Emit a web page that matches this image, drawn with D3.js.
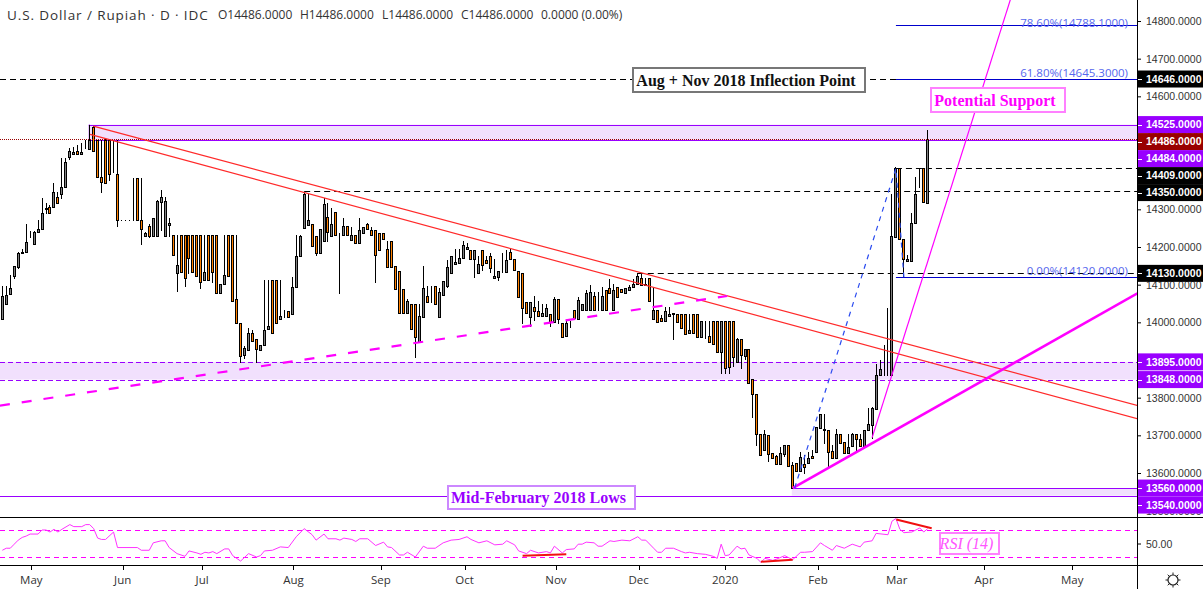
<!DOCTYPE html>
<html>
<head>
<meta charset="utf-8">
<script src="https://cdn.jsdelivr.net/npm/d3@7"></script>
<style>
  html, body { margin: 0; padding: 0; background: #fff; overflow: hidden; }
  svg { display: block; }
  text { font-family: "Open Sans", sans-serif; }
</style>
</head>
<body>
<div id="chart"></div>
<script>
// daily candles (first bar is just before May 2019)
let barOpen = [
  14010,14049,14074,14124,14147,14183,14188,14243,14209,14241,
  14249,14302,14305,14305,14334,14342,14358,14440,14446,14456,
  14446,14475,14461,14519,14484,14385,14484,14484,14484,14395,
  14272,14272,14271,14271,14382,14271,14228,14256,14230,14230,
  14320,14230,14259,14231,14130,14231,14231,14231,14231,14231,
  14231,14112,14231,14231,14231,14079,14101,14231,14231,14061,
  13997,13913,13927,13973,13955,13927,13939,13983,14112,14112,
  14010,14030,14029,14021,14093,14175,14250,14258,14260,14229,
  14185,14215,14279,14228,14292,14236,14231,14255,14218,14231,
  14210,14236,14260,14244,14244,14236,14236,14194,14215,14150,
  14135,14088,14026,14050,14048,13949,14014,14069,14053,14096,
  14015,14073,14097,14130,14156,14158,14170,14194,14191,14168,
  14130,14191,14165,14175,14119,14121,14135,14134,14186,14167,
  14135,14130,14053,14015,14040,14029,14018,14018,14021,14002,
  14061,13997,13964,14003,14034,14010,14034,14034,14034,14069,
  14034,14034,14085,14090,14034,14093,14088,14077,14085,14093,
  14101,14119,14098,14119,14010,14033,14011,14004,14016,14021,
  14021,14021,14021,13972,14021,14021,13960,13959,13965,14003,
  14003,13920,14003,14003,14003,13894,13957,13911,13928,13849,
  13811,13703,13660,13700,13652,13645,13623,13651,13674,13621,
  13627,13606,13624,13627,13645,13657,13720,13718,13713,13658,
  13641,13703,13681,13652,13673,13703,13689,13673,13713,13728,
  13771,13859,13859,13859,13859,14227,14409,14220,14164,14164,
  14263,14409,14409,14318
];
let barHigh = [
  14096,14096,14125,14149,14186,14194,14260,14243,14243,14272,
  14329,14316,14311,14369,14347,14435,14435,14462,14466,14471,
  14475,14484,14525,14521,14484,14484,14486,14486,14484,14484,
  14272,14272,14271,14382,14382,14382,14240,14260,14276,14325,
  14351,14332,14278,14231,14231,14231,14231,14231,14231,14231,
  14231,14231,14231,14231,14231,14103,14231,14231,14231,14231,
  13997,13937,13984,13980,13955,13939,14112,14112,14112,14112,
  14112,14034,14029,14121,14231,14231,14347,14342,14260,14229,
  14247,14329,14316,14304,14292,14236,14276,14255,14254,14231,
  14276,14254,14263,14254,14244,14236,14236,14216,14215,14150,
  14135,14088,14061,14050,14048,14050,14149,14096,14096,14096,
  14090,14111,14165,14175,14194,14196,14216,14211,14191,14191,
  14176,14191,14176,14183,14167,14135,14183,14192,14194,14167,
  14135,14130,14053,14055,14070,14057,14050,14050,14021,14068,
  14061,13997,14006,14003,14034,14068,14050,14086,14099,14081,
  14081,14095,14085,14114,14103,14093,14088,14090,14099,14114,
  14130,14130,14119,14119,14095,14033,14019,14042,14040,14026,
  14021,14021,14021,14021,14021,14021,14003,14003,14003,14003,
  14003,14003,14003,14003,14003,13959,13957,13928,13928,13849,
  13811,13703,13714,13700,13652,13648,13670,13674,13674,13630,
  13627,13657,13648,13657,13661,13722,13756,13757,13713,13674,
  13717,13703,13681,13703,13705,13703,13703,13713,13772,13774,
  13889,13900,13940,14038,14340,14413,14409,14220,14179,14289,
  14385,14409,14409,14511
];
let barLow = [
  14010,14049,14074,14118,14145,14183,14188,14226,14209,14241,
  14249,14289,14289,14305,14318,14329,14358,14434,14446,14446,
  14446,14462,14461,14454,14385,14347,14369,14378,14400,14257,
  14272,14272,14271,14271,14271,14208,14228,14226,14230,14230,
  14245,14230,14230,14180,14083,14134,14096,14130,14134,14124,
  14090,14112,14112,14108,14079,14079,14101,14124,14057,13997,
  13895,13904,13927,13951,13895,13927,13939,13983,13973,13997,
  14010,14013,14013,14021,14093,14175,14250,14258,14203,14179,
  14185,14215,14215,14228,14231,14079,14231,14233,14218,14210,
  14210,14236,14249,14231,14107,14191,14220,14148,14148,14089,
  14026,14026,14026,13983,13909,13949,14014,14053,14053,14050,
  14015,14073,14095,14130,14156,14158,14170,14194,14169,14121,
  14130,14139,14158,14134,14119,14112,14134,14134,14167,14139,
  14068,13999,14024,13990,14006,14018,14018,14018,13990,14002,
  13997,13962,13964,13988,14011,14010,14034,14034,14034,14034,
  14034,14034,14034,14079,14034,14067,14080,14077,14085,14093,
  14101,14098,14098,14057,14010,14000,14003,14004,14016,13956,
  14000,13984,13970,13972,13971,13960,13960,13959,13949,13943,
  13920,13866,13866,13865,13885,13894,13880,13902,13838,13750,
  13674,13649,13660,13633,13641,13624,13623,13645,13619,13559,
  13606,13606,13599,13627,13639,13657,13720,13679,13619,13641,
  13641,13680,13652,13652,13673,13657,13672,13673,13713,13694,
  13771,13859,13859,13859,13859,14227,14220,14121,14164,14164,
  14263,14360,14319,14318
];
let barClose = [
  14070,14072,14090,14149,14183,14188,14212,14243,14241,14249,
  14289,14304,14289,14345,14318,14358,14426,14454,14451,14446,
  14451,14475,14485,14454,14385,14373,14369,14393,14484,14271,
  14272,14272,14271,14271,14271,14247,14236,14230,14276,14321,
  14332,14321,14265,14180,14151,14134,14119,14170,14134,14124,
  14108,14134,14112,14134,14079,14103,14125,14124,14057,13999,
  13911,13931,13973,13951,13930,13939,13980,13989,13973,13997,
  14017,14030,14013,14093,14175,14228,14341,14271,14203,14185,
  14247,14314,14241,14260,14231,14236,14255,14233,14231,14210,
  14244,14252,14249,14231,14180,14191,14220,14148,14148,14089,
  14026,14026,14056,13983,13960,14016,14090,14053,14055,14050,
  14080,14111,14147,14175,14160,14170,14204,14201,14169,14191,
  14154,14151,14158,14145,14122,14135,14135,14165,14167,14139,
  14068,14037,14024,14053,14030,14018,14024,14037,14002,14061,
  14009,13962,13997,14003,14011,14058,14050,14077,14080,14034,
  14034,14069,14034,14079,14085,14067,14080,14090,14093,14101,
  14124,14098,14103,14057,14034,14000,14003,14029,14021,14026,
  14000,13984,13970,13979,13971,13960,14003,13959,13949,13943,
  13920,14003,13880,13882,13909,13957,13914,13928,13838,13809,
  13704,13649,13703,13651,13641,13624,13652,13674,13619,13559,
  13606,13642,13617,13640,13639,13722,13756,13713,13657,13641,
  13703,13680,13652,13668,13703,13689,13672,13713,13729,13772,
  13859,13875,13859,13859,14229,14409,14220,14167,14167,14263,
  14340,14409,14319,14486
];

// RSI(14) turning points: bar number and value
let rsiBars = [0,1,2,3,4,5,6,7,9,10,11,12,13,14,15,17,18,20,21,22,23,24,25,26,28,29,34,35,37,38,40,41,42,44,45,46,47,49,50,51,52,53,54,56,57,58,60,62,64,65,66,68,70,72,74,76,78,79,81,82,84,85,86,88,89,90,92,94,96,97,98,100,101,102,104,106,107,109,111,113,115,117,118,120,122,124,126,127,129,130,132,133,135,137,138,139,141,142,144,145,146,147,149,150,151,153,154,156,158,160,161,162,164,165,166,167,169,171,172,173,175,177,179,180,181,182,183,185,186,187,188,190,191,192,194,195,197,199,201,202,204,206,207,209,210,212,214,216,217,219,220,223,224,225,226,227,229,231,232,233];
let rsiValues = [40,43,43,49,55,59,61,64,64,70,70,67,71,67,71,78,75,75,78,78,72,58,56,56,67,44,44,40,40,51,54,54,44,35,33,31,39,36,34,37,36,38,35,42,42,32,24,35,30,32,39,40,45,44,60,72,63,55,64,57,57,55,58,56,53,57,57,47,52,45,44,33,33,37,30,46,43,43,51,55,56,60,56,51,54,48,49,54,48,39,35,40,36,38,36,46,36,41,42,49,49,52,51,46,46,54,53,55,54,60,55,55,43,37,37,43,43,38,36,37,35,34,31,28,49,32,33,46,42,43,33,28,22,28,25,27,32,26,37,37,38,51,47,40,47,43,49,45,52,54,65,63,83,87,71,66,67,73,67,72];

let monthLabels = ['May','Jun','Jul','Aug','Sep','Oct','Nov','Dec','2020','Feb','Mar','Apr','May'];
let monthBars = [7.3,30.3,50.3,73.3,95.3,116.4,139.4,160.2,182,205.4,225.2,247.2,269.4];

let priceTicks = [14800,14700,14600,14500,14400,14300,14200,14100,14000,13900,13800,13700,13600,13500];

// right hand price tags
let tagValues = [14646,14525,14486,14484,14409,14350,14130,13895,13848,13560,13540];
let tagColors = ['#000','#9900ff','#990000','#9900ff','#000','#000','#000','#9900ff','#9900ff','#9900ff','#9900ff'];

// drawings, [bar, price]
let redUpper = [[22.9,14521],[285.8,13779]];
let redLower = [[22.1,14499],[285.8,13744]];
let pinkDashed = [[-0.6,13779],[182.5,14070]];
let pinkThick = [[199,13560],[285.8,14077]];
let pinkSteep = [[219,13694],[253.8,14856]];
let fibPath = [[199.5,13560],[225,14409],[227,14120]];
let fibLevels = ['78.60%(14788.1000)','61.80%(14645.3000)','0.00%(14120.0000)'];
let fibValues = [14788.1,14645.3,14120];
let fibLabelY = [14795,14663,14137];
let dashLevels = [14646,14409,14350,14130];
let dashFrom = [-1,225,76,160];
// RSI drawings, [bar, rsi]
let rsiRed = [
  [[131,32],[142,34]],
  [[191,23],[199,26]],
  [[225.1,85.6],[234,72.7]]
];

// header pieces, x
let headerTexts = ['O14486.0000','H14486.0000','L14486.0000','C14486.0000','0.0000 (0.00%)'];
let headerX = [218,300,382,461,541];

let width = 1203, height = 589;
let plotRight = 1137, axisBottom = 565, rsiTop = 518;
let axisFont = '"Liberation Sans", sans-serif';

let svg = d3.select('#chart').append('svg')
  .attr('width', width)
  .attr('height', height)
  .style('background', '#fff');

let x = d3.scaleLinear().domain([0, 233]).range([2.33, 927.7]);
let y = d3.scaleLinear().domain([13600, 14800]).range([473, 21]);
let yRsi = d3.scaleLinear().domain([30, 70]).range([557, 530]);

let clip = svg.append('defs').append('clipPath').attr('id', 'price');
clip.append('rect').attr('width', plotRight).attr('height', rsiTop);

let main = svg.append('g').attr('clip-path', 'url(#price)');
let boxFill = '#f1e0fd', purple = '#9900ff', pink = '#ff00ff';

// shaded zones
function zone(bar0, top, bottom, dash) {
  main.append('rect')
    .attr('x', bar0 < 0 ? 0 : x(bar0) - 0.5).attr('y', y(top))
    .attr('width', plotRight).attr('height', y(bottom) - y(top))
    .style('fill', boxFill);
  [top, bottom].forEach(v => {
    main.append('line')
      .attr('x1', bar0 < 0 ? 0 : x(bar0) - 0.5).attr('x2', plotRight)
      .attr('y1', Math.round(y(v)) + 0.5).attr('y2', Math.round(y(v)) + 0.5)
      .style('stroke', purple).style('stroke-width', 1)
      .style('stroke-dasharray', dash);
  });
}
zone(21.9, 14525, 14484, null);
zone(-1, 13895, 13848, '5,3');
zone(198.9, 13560, 13540, null);
main.append('line')
  .attr('x1', x(21.9)).attr('x2', x(21.9))
  .attr('y1', y(14525)).attr('y2', y(14484))
  .style('stroke', purple);
main.append('line')
  .attr('x1', 0).attr('x2', plotRight)
  .attr('y1', Math.round(y(13540)) + 0.5).attr('y2', Math.round(y(13540)) + 0.5)
  .style('stroke', purple);

// dashed levels
main.selectAll('.level').data(dashLevels).enter().append('line')
  .attr('x1', (d, i) => dashFrom[i] < 0 ? 0 : x(dashFrom[i]))
  .attr('x2', plotRight)
  .attr('y1', d => Math.round(y(d)) + 0.5)
  .attr('y2', d => Math.round(y(d)) + 0.5)
  .style('stroke', '#000')
  .style('stroke-dasharray', '6,4');

// candles, snapped to whole pixels: black / colour / black
let bars = d3.range(barOpen.length);
main.selectAll('.wick').data(bars).enter().append('line')
  .attr('x1', d => Math.floor(x(d)) + 0.5)
  .attr('x2', d => Math.floor(x(d)) + 0.5)
  .attr('y1', d => Math.round(y(barHigh[d])))
  .attr('y2', d => Math.round(y(barLow[d])) + 1)
  .style('stroke', '#000');
main.selectAll('.body').data(bars).enter().append('rect')
  .attr('x', d => Math.floor(x(d)) - 0.5)
  .attr('width', 2)
  .attr('y', d => Math.round(y(Math.max(barOpen[d], barClose[d]))) + 0.5)
  .attr('height', d => Math.abs(Math.round(y(barOpen[d])) - Math.round(y(barClose[d]))))
  .style('fill', d => barClose[d] >= barOpen[d] ? '#808080' : '#ff8000')
  .style('stroke', '#000')
  .style('stroke-width', 1);

// last price dotted line
main.append('line')
  .attr('x1', 0).attr('x2', plotRight)
  .attr('y1', Math.round(y(14486)) + 0.5).attr('y2', Math.round(y(14486)) + 0.5)
  .style('stroke', '#990000')
  .style('stroke-dasharray', '1,1');

// fib levels
main.selectAll('.fib').data(fibValues).enter().append('line')
  .attr('x1', x(225)).attr('x2', plotRight)
  .attr('y1', d => Math.round(y(d)) + 0.5)
  .attr('y2', d => Math.round(y(d)) + 0.5)
  .style('stroke', '#0000cc');
main.selectAll('.fibLabel').data(fibLevels).enter().append('text')
  .attr('x', 1128)
  .attr('y', (d, i) => y(fibLabelY[i]))
  .attr('dy', '0.35em')
  .attr('text-anchor', 'end')
  .style('font-size', '11.5px')
  .style('fill', '#5566ee')
  .text(d => d);

// trend lines
let trend = d3.line().x(d => x(d[0])).y(d => y(d[1]));
function draw(points, color, w, dash) {
  main.append('path')
    .attr('d', trend(points))
    .style('fill', 'none')
    .style('stroke', color)
    .style('stroke-width', w)
    .style('stroke-dasharray', dash);
}
draw(redUpper, '#ff2a2a', 1.2, null);
draw(redLower, '#ff2a2a', 1.2, null);
draw(pinkDashed, pink, 2.2, '10,12');
draw(pinkThick, pink, 2.6, null);
draw(pinkSteep, pink, 1.2, null);
draw(fibPath, '#2a4bf0', 1.2, '5,5');

// label boxes
function note(txt, x0, x1, y0, y1, color, border, style) {
  svg.append('rect')
    .attr('x', x0).attr('y', y0)
    .attr('width', x1 - x0).attr('height', y1 - y0)
    .style('fill', '#fff')
    .style('stroke', border)
    .style('stroke-width', 2);
  svg.append('text')
    .attr('x', (x0 + x1) / 2 - 3).attr('y', (y0 + y1) / 2)
    .attr('dy', '0.35em')
    .attr('text-anchor', 'middle')
    .style('font-family', '"Liberation Serif", serif')
    .style('font-size', '16px')
    .style('font-weight', style === 'italic' ? 'normal' : 'bold')
    .style('font-style', style)
    .style('fill', color)
    .text(txt);
}
note('Aug + Nov 2018 Inflection Point', 633, 865, 68, 92, '#111', '#777', 'normal');
note('Potential Support', 931, 1065, 88, 112, pink, '#ff80ff', 'normal');
note('Mid-February 2018 Lows', 448, 635, 486, 509, purple, '#cc88ff', 'normal');

// RSI pane
svg.selectAll('.rsiBand').data([70, 30]).enter().append('line')
  .attr('x1', 0).attr('x2', plotRight)
  .attr('y1', d => Math.round(yRsi(d)) + 0.5)
  .attr('y2', d => Math.round(yRsi(d)) + 0.5)
  .style('stroke', pink)
  .style('stroke-dasharray', '5,4');
let rsiLine = d3.line().x((d, i) => x(rsiBars[i])).y(d => yRsi(d));
svg.append('path')
  .attr('d', rsiLine(rsiValues))
  .style('fill', 'none')
  .style('stroke', '#ff33ff')
  .style('stroke-width', 1);
let rsiTrend = d3.line().x(d => x(d[0])).y(d => yRsi(d[1]));
svg.selectAll('.rsiRed').data(rsiRed).enter().append('path')
  .attr('d', d => rsiTrend(d))
  .style('stroke', '#f01010')
  .style('stroke-width', 2);
note('RSI (14)', 940, 999, 533, 554, '#ff55ff', '#ff80ff', 'italic');

// right axis
let yAxis = d3.axisRight(y).tickValues(priceTicks).tickSize(4).tickPadding(5)
  .tickFormat(d3.format('.4f'));
let gy = svg.append('g')
  .attr('transform', 'translate(' + plotRight + ',0)')
  .call(yAxis);
gy.select('.domain').remove();
gy.selectAll('.tick text').style('font-size', '10.5px').style('fill', '#333').style('font-family', axisFont);

// tags stacked so they never overlap
let tagY = [], last = -100;
tagValues.forEach(v => {
  let p = Math.max(y(v), last + 17);
  tagY.push(p);
  last = p;
});
svg.selectAll('.tag').data(tagValues).enter().append('rect')
  .attr('x', plotRight).attr('width', width - plotRight)
  .attr('y', (d, i) => tagY[i] - 8.5).attr('height', 17)
  .style('fill', (d, i) => tagColors[i]);
svg.selectAll('.tagTick').data(tagValues).enter().append('line')
  .attr('x1', plotRight + 1).attr('x2', plotRight + 5)
  .attr('y1', (d, i) => Math.round(tagY[i]) + 0.5)
  .attr('y2', (d, i) => Math.round(tagY[i]) + 0.5)
  .style('stroke', '#fff');
svg.selectAll('.tagText').data(tagValues).enter().append('text')
  .attr('x', 1146)
  .attr('y', (d, i) => tagY[i])
  .attr('dy', '0.35em')
  .style('font-family', axisFont)
  .style('font-size', '10.5px')
  .style('font-weight', 'bold')
  .style('fill', '#fff')
  .text(d => d3.format('.4f')(d));

// RSI axis label
svg.append('text')
  .attr('x', 1146).attr('y', yRsi(50) + 1).attr('dy', '0.35em')
  .style('font-family', axisFont)
  .style('font-size', '10.5px').style('fill', '#333')
  .text('50.00');
svg.append('line')
  .attr('x1', plotRight).attr('x2', plotRight + 4)
  .attr('y1', yRsi(50) + 0.5).attr('y2', yRsi(50) + 0.5)
  .style('stroke', '#000');

// frame
svg.append('line').attr('x1', plotRight + 0.5).attr('x2', plotRight + 0.5).attr('y1', 0).attr('y2', height).style('stroke', '#000');
svg.append('line').attr('x1', 0).attr('x2', width).attr('y1', rsiTop - 0.5).attr('y2', rsiTop - 0.5).style('stroke', '#000');
svg.append('line').attr('x1', 0).attr('x2', width).attr('y1', axisBottom + 0.5).attr('y2', axisBottom + 0.5).style('stroke', '#000');

// time axis
svg.selectAll('.monthTick').data(monthBars).enter().append('line')
  .attr('x1', d => Math.round(x(d)) + 0.5).attr('x2', d => Math.round(x(d)) + 0.5)
  .attr('y1', axisBottom).attr('y2', axisBottom + 5)
  .style('stroke', '#000');
svg.selectAll('.monthLabel').data(monthLabels).enter().append('text')
  .attr('x', (d, i) => x(monthBars[i]))
  .attr('y', 580)
  .attr('dy', '0.35em')
  .attr('text-anchor', 'middle')
  .style('font-size', '11.5px')
  .style('fill', '#333')
  .text(d => d);

// settings icon
let gear = svg.append('g').attr('transform', 'translate(1173,580)');
gear.append('circle').attr('r', 5).style('fill', 'none').style('stroke', '#222').style('stroke-width', 1.2);
gear.selectAll('line').data(d3.range(8)).enter().append('line')
  .attr('x1', d => 5 * Math.cos(d * Math.PI / 4)).attr('y1', d => 5 * Math.sin(d * Math.PI / 4))
  .attr('x2', d => 7.5 * Math.cos(d * Math.PI / 4)).attr('y2', d => 7.5 * Math.sin(d * Math.PI / 4))
  .style('stroke', '#222');

// header
svg.append('text').attr('x', 7).attr('y', 20)
  .style('font-size', '13.5px').style('letter-spacing', '0.9px').style('fill', '#333')
  .text('U.S. Dollar / Rupiah · D · IDC');
svg.selectAll('.ohlc').data(headerTexts).enter().append('text')
  .attr('x', (d, i) => headerX[i]).attr('y', 19)
  .style('font-size', '12px').style('fill', '#333')
  .text(d => d);
</script>
</body>
</html>
